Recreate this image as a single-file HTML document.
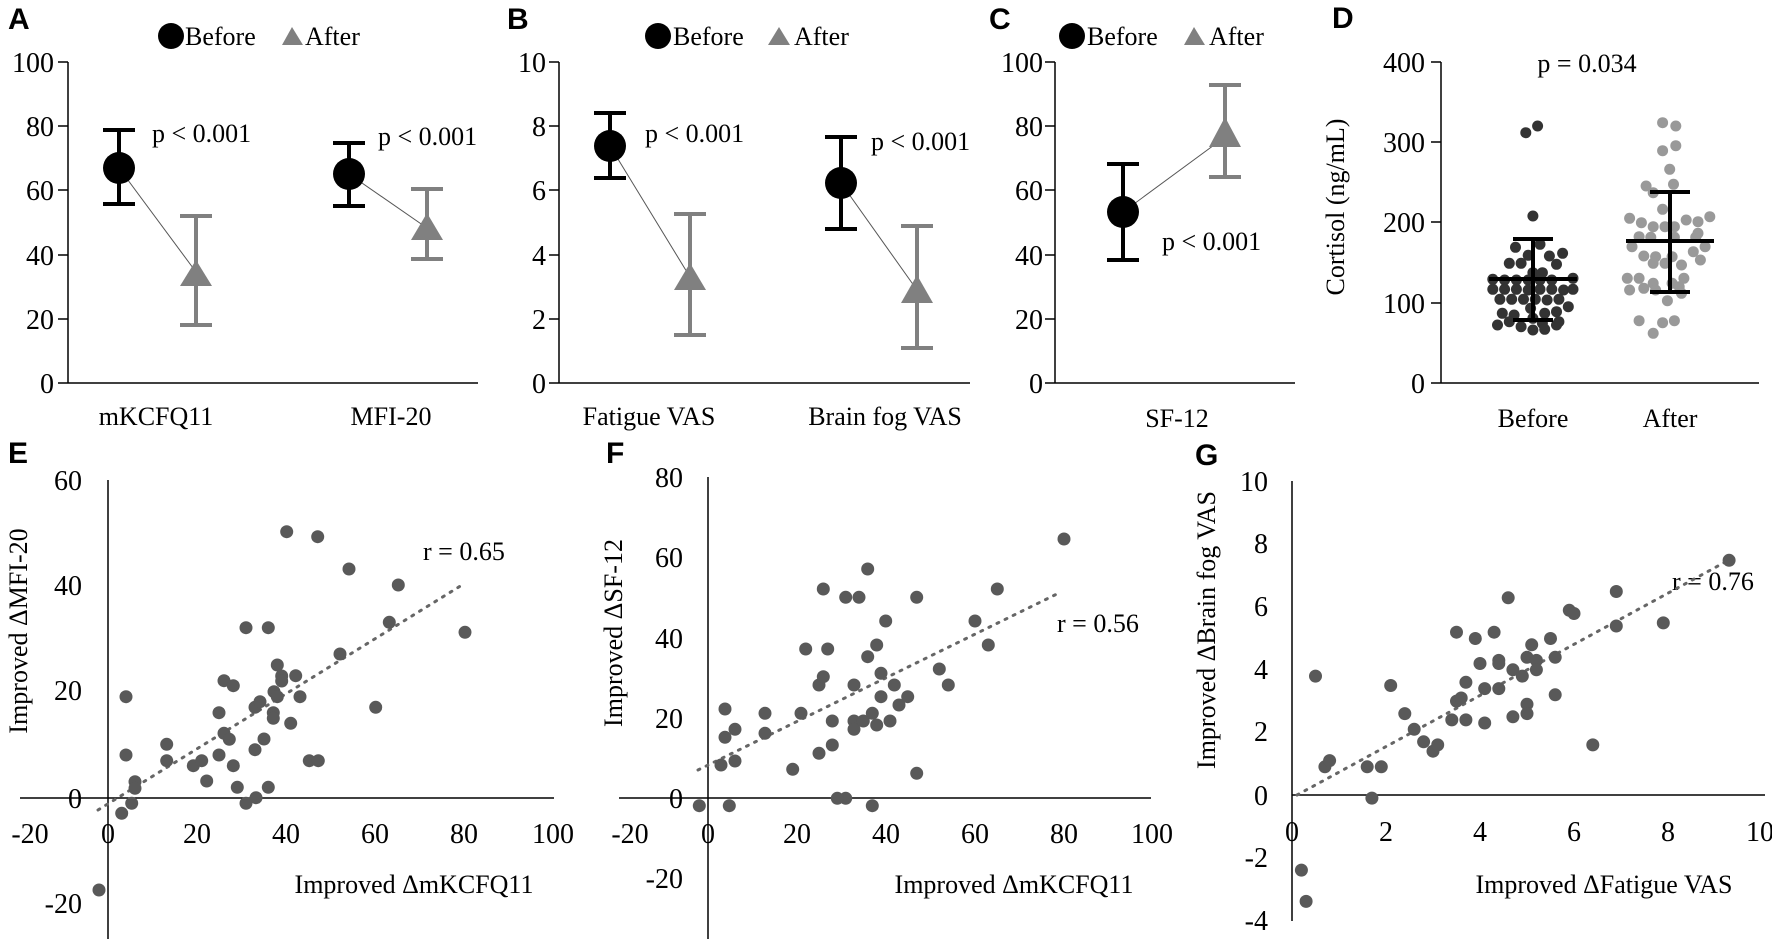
<!DOCTYPE html>
<html><head><meta charset="utf-8"><style>
body{margin:0;background:#fff}
svg{display:block}
text{font-family:"Liberation Serif",serif;font-size:26px;fill:#000}
.tk text{font-size:28px}
.L{font-family:"Liberation Sans",sans-serif;font-weight:bold;font-size:30px}
.ax{stroke:#000;stroke-width:1.5;fill:none}
.bk{stroke:#000;stroke-width:4;fill:none}
.gy{stroke:#808080;stroke-width:4;fill:none}
.cn{stroke:#555;stroke-width:1;}
.sc circle{fill:#595959}
.tr{stroke:#666;stroke-width:3;stroke-dasharray:2 7;stroke-linecap:round;fill:none}
</style></head><body>
<svg width="1772" height="939" viewBox="0 0 1772 939" xmlns="http://www.w3.org/2000/svg">
<!-- Panel A -->
<text class="L" x="8" y="29">A</text>
<circle cx="171" cy="36" r="13"/><text x="185" y="45">Before</text>
<polygon points="292,27 282,45 303,45" fill="#808080"/><text x="305" y="45">After</text>
<path class="ax" d="M68,62V383H478M58,62H68M58,126H68M58,190H68M58,255H68M58,319H68M58,383H68"/>
<g class="tk" text-anchor="end"><text x="54" y="72">100</text><text x="54" y="136">80</text><text x="54" y="200">60</text><text x="54" y="265">40</text><text x="54" y="329">20</text><text x="54" y="393">0</text></g>
<line class="cn" x1="119" y1="168" x2="196" y2="272"/><line class="cn" x1="349" y1="174" x2="427" y2="228"/>
<path class="bk" d="M119,130V204M103,130H135M103,204H135M349,143V206M333,143H365M333,206H365"/>
<path class="gy" d="M196,216V325M180,216H212M180,325H212M427,189V259M411,189H443M411,259H443"/>
<circle cx="119" cy="168" r="16"/><circle cx="349" cy="174" r="16"/>
<polygon points="196,260 180,286 212,286" fill="#808080"/><polygon points="427,213 411,240 443,240" fill="#808080"/>
<text x="152" y="142">p &lt; 0.001</text><text x="378" y="145">p &lt; 0.001</text>
<text x="156" y="425" text-anchor="middle">mKCFQ11</text><text x="391" y="425" text-anchor="middle">MFI-20</text>
<!-- Panel B -->
<text class="L" x="507" y="29">B</text>
<circle cx="658" cy="36" r="13"/><text x="673" y="45">Before</text>
<polygon points="779,27 768,45 790,45" fill="#808080"/><text x="794" y="45">After</text>
<path class="ax" d="M559,62V383H970M549,62H559M549,126H559M549,190H559M549,255H559M549,319H559M549,383H559"/>
<g class="tk" text-anchor="end"><text x="546" y="72">10</text><text x="546" y="136">8</text><text x="546" y="200">6</text><text x="546" y="265">4</text><text x="546" y="329">2</text><text x="546" y="393">0</text></g>
<line class="cn" x1="610" y1="146" x2="690" y2="277"/><line class="cn" x1="841" y1="183" x2="917" y2="290"/>
<path class="bk" d="M610,113V178M594,113H626M594,178H626M841,137V229M825,137H857M825,229H857"/>
<path class="gy" d="M690,214V335M674,214H706M674,335H706M917,226V348M901,226H933M901,348H933"/>
<circle cx="610" cy="146" r="16"/><circle cx="841" cy="183" r="16"/>
<polygon points="690,263 674,290 706,290" fill="#808080"/><polygon points="917,275 901,303 933,303" fill="#808080"/>
<text x="645" y="142">p &lt; 0.001</text><text x="871" y="150">p &lt; 0.001</text>
<text x="649" y="425" text-anchor="middle">Fatigue VAS</text><text x="885" y="425" text-anchor="middle">Brain fog VAS</text>
<!-- Panel C -->
<text class="L" x="989" y="29">C</text>
<circle cx="1072" cy="36" r="13"/><text x="1087" y="45">Before</text>
<polygon points="1194,27 1184,45 1205,45" fill="#808080"/><text x="1209" y="45">After</text>
<path class="ax" d="M1055,62V383H1295M1045,62H1055M1045,126H1055M1045,190H1055M1045,255H1055M1045,319H1055M1045,383H1055"/>
<g class="tk" text-anchor="end"><text x="1043" y="72">100</text><text x="1043" y="136">80</text><text x="1043" y="200">60</text><text x="1043" y="265">40</text><text x="1043" y="329">20</text><text x="1043" y="393">0</text></g>
<line class="cn" x1="1123" y1="212" x2="1225" y2="137"/>
<path class="bk" d="M1123,164V260M1107,164H1139M1107,260H1139"/>
<path class="gy" d="M1225,85V177M1209,85H1241M1209,177H1241"/>
<circle cx="1123" cy="212" r="16"/>
<polygon points="1225,117 1209,147 1241,147" fill="#808080"/>
<text x="1162" y="250">p &lt; 0.001</text>
<text x="1177" y="427" text-anchor="middle">SF-12</text>
<!-- Panel D -->
<text class="L" x="1332" y="28">D</text>
<path class="ax" d="M1441,62V383H1759M1431,62H1441M1431,142H1441M1431,222H1441M1431,303H1441M1431,383H1441"/>
<g class="tk" text-anchor="end"><text x="1425" y="72">400</text><text x="1425" y="152">300</text><text x="1425" y="232">200</text><text x="1425" y="313">100</text><text x="1425" y="393">0</text></g>
<text x="1587" y="72" text-anchor="middle">p = 0.034</text>
<text transform="translate(1344,207) rotate(-90)" text-anchor="middle">Cortisol (ng/mL)</text>
<text x="1533" y="427" text-anchor="middle">Before</text><text x="1670" y="427" text-anchor="middle">After</text>
<g fill="#333" id="db"></g>
<g fill="#999" id="da"></g>
<path class="bk" d="M1533,239V320M1513,239H1553M1513,320H1553M1489,279H1577"/>
<path class="bk" d="M1670,192V292M1650,192H1690M1650,292H1690M1626,241H1714"/>
<!-- Panel E -->
<text class="L" x="8" y="463">E</text>
<path class="ax" d="M108,480V939M20,798H554"/>
<g class="tk" text-anchor="end"><text x="82" y="490">60</text><text x="82" y="595">40</text><text x="82" y="700">20</text><text x="82" y="808">0</text><text x="82" y="913">-20</text></g>
<g class="tk" text-anchor="middle"><text x="30" y="843">-20</text><text x="108" y="843">0</text><text x="197" y="843">20</text><text x="286" y="843">40</text><text x="375" y="843">60</text><text x="464" y="843">80</text><text x="553" y="843">100</text></g>
<text transform="translate(27,631) rotate(-90)" text-anchor="middle">Improved ΔMFI-20</text>
<text x="414" y="893" text-anchor="middle">Improved ΔmKCFQ11</text>
<text x="423" y="560">r = 0.65</text>
<line class="tr" x1="98" y1="810" x2="462" y2="585"/>
<g class="sc" id="pe"></g>
<!-- Panel F -->
<text class="L" x="606" y="463">F</text>
<path class="ax" d="M708,477V939M619,798H1151"/>
<g class="tk" text-anchor="end"><text x="683" y="487">80</text><text x="683" y="567">60</text><text x="683" y="648">40</text><text x="683" y="728">20</text><text x="683" y="808">0</text><text x="683" y="888">-20</text></g>
<g class="tk" text-anchor="middle"><text x="630" y="843">-20</text><text x="708" y="843">0</text><text x="797" y="843">20</text><text x="886" y="843">40</text><text x="975" y="843">60</text><text x="1064" y="843">80</text><text x="1152" y="843">100</text></g>
<text transform="translate(622,633) rotate(-90)" text-anchor="middle">Improved ΔSF-12</text>
<text x="1014" y="893" text-anchor="middle">Improved ΔmKCFQ11</text>
<text x="1057" y="632">r = 0.56</text>
<line class="tr" x1="698" y1="770" x2="1061" y2="592"/>
<g class="sc" id="pf"></g>
<!-- Panel G -->
<text class="L" x="1195" y="465">G</text>
<path class="ax" d="M1292,481V921M1292,795H1765"/>
<g class="tk" text-anchor="end"><text x="1268" y="491">10</text><text x="1268" y="553">8</text><text x="1268" y="616">6</text><text x="1268" y="679">4</text><text x="1268" y="741">2</text><text x="1268" y="805">0</text><text x="1268" y="867">-2</text><text x="1268" y="930">-4</text></g>
<g class="tk" text-anchor="middle"><text x="1292" y="841">0</text><text x="1386" y="841">2</text><text x="1480" y="841">4</text><text x="1574" y="841">6</text><text x="1668" y="841">8</text><text x="1760" y="841">10</text></g>
<text transform="translate(1215,630) rotate(-90)" text-anchor="middle">Improved ΔBrain fog VAS</text>
<text x="1604" y="893" text-anchor="middle">Improved ΔFatigue VAS</text>
<text x="1672" y="590">r = 0.76</text>
<line class="tr" x1="1297" y1="795" x2="1729" y2="560"/>
<g class="sc" id="pg"></g>
<script>
var NS="http://www.w3.org/2000/svg";
function dot(g,x,y,r){var c=document.createElementNS(NS,"circle");c.setAttribute("cx",x.toFixed(1));c.setAttribute("cy",y.toFixed(1));c.setAttribute("r",r);document.getElementById(g).appendChild(c);}
var E=[[378,890],[378,1065],[405,1145],[405,1165],[395,1210],[500,1033],[500,1082],[580,1097],[605,1082],[620,1143],[657,938],[657,1065],[672,842],[672,1000],[688,1018],[700,857],[700,1097],[712,1162],[738,683],[738,1210],[765,1049],[768,1193],[765,922],[780,905],[792,1017],[805,683],[805,1162],[820,938],[820,955],[822,875],[832,890],[832,795],[845,828],[845,843],[860,395],[872,970],[887,827],[900,890],[928,1082],[955,1082],[953,410],[1047,507],[1020,762],[1127,922],[1168,667],[1195,555],[1395,697],[365,1240]];
E.forEach(function(p){dot("pe",p[0]/3,400+p[1]/3,6.5)});dot("pe",99,890,6.5);
var F=[[538,1217],[628,1217],[603,1095],[645,1083],[615,1012],[645,988],[615,927],[735,940],[735,1000],[818,1108],[843,940],[857,747],[897,1060],[897,855],[910,830],[910,567],[923,747],[937,963],[937,1035],[977,592],[977,1195],[952,1195],[1002,855],[1002,963],[1002,988],[1017,592],[1030,963],[1043,507],[1043,770],[1057,940],[1057,1217],[1070,735],[1070,975],[1083,820],[1083,890],[1097,663],[1110,963],[1123,855],[1137,915],[1163,890],[1190,592],[1190,1120],[1258,807],[1285,855],[1365,663],[1405,735],[1432,567]];
F.forEach(function(p){dot("pf",520+p[0]/3,400+p[1]/3,6.5)});dot("pf",1064,539,6.5);
var G=[[0.2,-2.4],[0.3,-3.4],[0.5,3.8],[0.7,0.9],[0.8,1.1],[1.6,0.9],[1.7,-0.1],[1.9,0.9],[2.1,3.5],[2.4,2.6],[2.6,2.1],[2.8,1.7],[3.0,1.4],[3.1,1.6],[3.4,2.4],[3.5,3.0],[3.6,3.1],[3.7,3.6],[3.5,5.2],[3.7,2.4],[3.9,5.0],[4.0,4.2],[4.1,3.4],[4.1,2.3],[4.3,5.2],[4.4,4.3],[4.4,4.2],[4.4,3.4],[4.6,6.3],[4.7,4.0],[4.7,2.5],[4.9,3.8],[5.0,4.4],[5.0,2.9],[5.0,2.6],[5.1,4.8],[5.2,4.3],[5.2,4.0],[5.5,5.0],[5.6,4.4],[5.6,3.2],[5.9,5.9],[6.0,5.8],[6.4,1.6],[6.9,6.5],[6.9,5.4],[7.9,5.5],[9.3,7.5]];
G.forEach(function(p){dot("pg",1292+p[0]*47,795-p[1]*31.3,6.5)});
var DB=[[1030,398],[1055,378],[1045,648],[1008,742],[1060,733],[1108,760],[1035,766],[1080,768],[995,790],[1020,790],[1095,793],[1045,818],[1065,818],[960,838],[985,840],[1010,840],[1035,840],[1060,840],[1085,840],[1130,835],[960,868],[985,868],[1010,868],[1035,870],[1060,868],[1085,868],[1110,870],[1130,868],[975,898],[1000,898],[1025,898],[1050,898],[1075,900],[1100,898],[1120,920],[1040,925],[980,940],[1005,945],[1070,940],[1095,935],[970,975],[995,965],[1045,955],[1065,970],[1095,975],[1020,980],[1045,990],[1070,988],[1100,965]];
DB.forEach(function(p){dot("db",1040+p[0]/2.12,p[1]/3,5.5)});
var DA=[[1320,368],[1348,378],[1320,452],[1348,437],[1335,508],[1285,558],[1343,553],[1300,578],[1320,628],[1250,655],[1275,668],[1300,680],[1325,680],[1345,680],[1370,660],[1395,665],[1420,650],[1270,710],[1295,712],[1345,712],[1390,712],[1255,740],[1410,740],[1280,768],[1305,770],[1340,770],[1385,755],[1300,790],[1325,790],[1360,795],[1245,835],[1270,835],[1300,850],[1340,850],[1365,835],[1280,865],[1305,870],[1355,860],[1330,902],[1270,962],[1320,968],[1345,962],[1300,1000],[1360,880],[1250,870],[1395,700],[1400,780]];
DA.forEach(function(p){dot("da",1040+p[0]/2.12,p[1]/3,5.5)});
</script>
</svg>
</body></html>
